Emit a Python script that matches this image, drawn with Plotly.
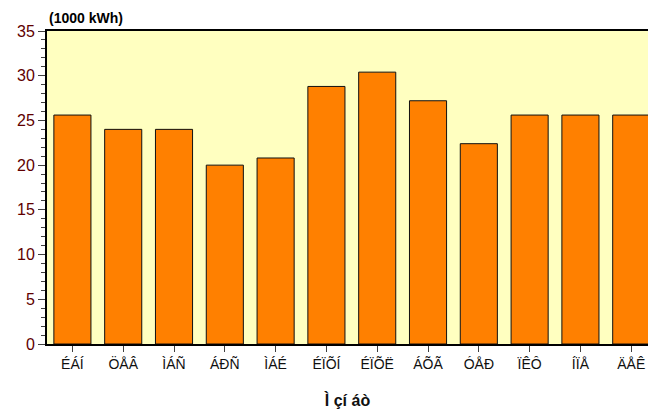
import plotly.graph_objects as go

months = ["ÉÁÍ", "ÖÅÂ", "ÌÁÑ", "ÁÐÑ", "ÌÁÉ", "ÉÏÕÍ", "ÉÏÕË", "ÁÕÃ", "ÓÅÐ", "ÏÊÔ", "ÍÏÅ", "ÄÅÊ"]
energy = [25.6, 24.0, 24.0, 20.0, 20.8, 28.8, 30.4, 27.2, 22.4, 25.6, 25.6, 25.6]
y_ticks = [0, 5, 10, 15, 20, 25, 30, 35]

fig = go.Figure()
fig.add_trace(go.Bar(
    x=list(range(len(months))), y=energy,
    width=0.73,
    marker=dict(color="#FF8000", line=dict(color="#101010", width=1)),
))

fig.update_layout(
    width=648, height=412,
    margin=dict(l=47, r=0, t=31, b=68),
    paper_bgcolor="white",
    plot_bgcolor="#FFFFC0",
    showlegend=False,
    font=dict(family="Liberation Sans, Arial, sans-serif"),
    xaxis=dict(
        tickmode="array", tickvals=list(range(len(months))), ticktext=months,
        range=[-0.5, 11.33],
        showline=True, linecolor="black", linewidth=2, mirror=True,
        ticks="outside", ticklen=6, tickcolor="#404040",
        tickfont=dict(size=14, color="#101010"),
        showgrid=False, zeroline=False,
        title=dict(text="<b>Ì çí áò</b>", font=dict(size=16, color="#101010"), standoff=24),
    ),
    yaxis=dict(
        range=[0, 35], tickvals=y_ticks,
        showline=True, linecolor="black", linewidth=2,
        ticks="outside", ticklen=7, tickcolor="#404040",
        tickfont=dict(size=16, color="#600000"),
        minor=dict(dtick=1, ticks="outside", ticklen=4, tickcolor="#404040"),
        showgrid=False, zeroline=False,
    ),
    annotations=[dict(
        text="<b>(1000 kWh)</b>", xref="paper", yref="paper",
        x=0, y=1, xanchor="left", yanchor="bottom", yshift=3,
        showarrow=False, font=dict(size=14, color="black"),
    )],
)

fig.write_html(
    "out.html",
    config={"displayModeBar": False},
    post_script="document.body.style.margin='0';document.body.style.overflow='hidden';",
)
